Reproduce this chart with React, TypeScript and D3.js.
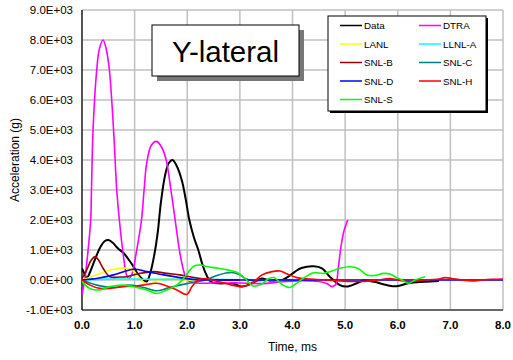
import React from "react";
import * as d3 from "d3";

type Pt = [number, number];

// Time axis ticks (ms) and acceleration ticks (g)
const xTicks = [0, 1, 2, 3, 4, 5, 6, 7, 8];
const yTicks = [-1000, 0, 1000, 2000, 3000, 4000, 5000, 6000, 7000, 8000, 9000];

const TITLE = "Y-lateral";
const X_LABEL = "Time, ms";
const Y_LABEL = "Acceleration (g)";

// Measured and simulated acceleration histories: [time ms, acceleration g]
const dataSeries: Pt[] = [
  [0, 390], [0.05, 200], [0.09, 50], [0.15, 250], [0.25, 700], [0.35, 1100], [0.43, 1290],
  [0.5, 1330], [0.58, 1250], [0.68, 1060], [0.79, 900], [0.9, 650], [0.98, 440], [1.08, 150],
  [1.17, 0], [1.23, -50], [1.3, 250], [1.38, 900], [1.44, 1600], [1.5, 2600], [1.58, 3500],
  [1.65, 3900], [1.72, 4000], [1.8, 3800], [1.9, 3300], [1.97, 2700], [2.04, 2000], [2.13, 1400],
  [2.21, 1000], [2.3, 450], [2.37, 150], [2.44, -50], [2.59, -110], [2.85, -110], [3.04, -220],
  [3.23, -110], [3.42, 50], [3.61, -50], [3.78, -20], [3.92, 110], [4.05, 280], [4.17, 400],
  [4.4, 460], [4.56, 390], [4.71, 110], [4.9, -170], [5.03, -220], [5.22, -110], [5.35, -20],
  [5.55, -60], [5.79, -170], [5.98, -210], [6.2, -110], [6.5, -60], [6.78, -30],
];

const dtra: Pt[] = [
  [0, -500], [0.06, 100], [0.11, 900], [0.165, 2000], [0.18, 3000], [0.21, 5000], [0.28, 7000],
  [0.33, 7700], [0.4, 8000], [0.46, 7700], [0.52, 7000], [0.6, 5000], [0.66, 3000], [0.71, 2000],
  [0.78, 900], [0.85, 150], [0.89, 50], [0.95, 200], [1.03, 900], [1.13, 2000], [1.18, 3000],
  [1.23, 3900], [1.32, 4500], [1.42, 4620], [1.52, 4400], [1.6, 4000], [1.69, 3000], [1.77, 2000],
  [1.86, 900], [1.94, 250], [2.0, 0], [2.1, -80], [2.3, -110], [2.6, -90], [3.0, -100],
  [3.4, -120], [3.8, -60], [4.2, -20], [4.5, -50], [4.65, -120], [4.75, -220], [4.82, -150],
  [4.87, 400], [4.92, 1100], [4.98, 1650], [5.05, 2000],
];

const lanl: Pt[] = [
  [0, 0], [0.15, 80], [0.34, 220], [0.6, 360], [0.85, 390], [0.98, 300], [1.1, 50], [1.23, -150],
  [1.35, -80], [1.55, 30], [1.8, 20], [2.1, 0], [2.4, 0], [2.75, -50], [3.2, 0], [3.6, -20], [4.0, 0],
];

const llnlA: Pt[] = [
  [0, 0], [0.5, 30], [1.0, 30], [1.5, 20], [2.0, 30], [2.5, 20], [3.0, 10],
];

const snlB: Pt[] = [
  [0, 50], [0.08, 300], [0.17, 650], [0.25, 780], [0.32, 650], [0.4, 390], [0.53, 110], [0.72, 100],
  [0.85, 110], [1.1, 220], [1.36, 280], [1.61, 220], [1.86, 170], [2.05, 110], [2.3, 40], [2.6, 0],
  [3.0, 0],
];

const snlC: Pt[] = [
  [0, 0], [0.28, -170], [0.6, -250], [0.91, -170], [1.17, -250], [1.42, -360], [1.61, -280],
  [1.86, -170], [2.05, -100], [2.34, 0], [2.59, 170], [2.85, 250], [3.0, 170], [3.1, 50],
  [3.25, -20], [3.5, 0], [4.0, 0],
];

const snlD: Pt[] = [
  [0, 0], [0.3, 60], [0.6, 170], [0.98, 360], [1.23, 280], [1.55, 170], [1.86, 80], [2.1, 20],
  [2.5, 0], [3, 0], [4, 0], [5, 0], [6, 0], [7, 0], [8, 0],
];

const snlH: Pt[] = [
  [0, 0], [0.15, -170], [0.34, -280], [0.53, -280], [0.79, -220], [1.04, -200], [1.23, -150],
  [1.42, -110], [1.61, -200], [1.8, -330], [1.99, -480], [2.09, -220], [2.21, 0], [2.34, 50],
  [2.59, -50], [2.85, -170], [3.04, -220], [3.23, -110], [3.42, 170], [3.61, 280], [3.76, 300],
  [3.9, 200], [4.08, 80], [4.33, 30], [4.59, 0], [4.9, -30], [5.22, -50], [5.55, -20], [5.86, 50],
  [5.95, 20], [6.2, -50], [6.5, 0], [6.78, 30], [6.9, 80], [7.03, 50], [7.22, 0], [7.41, -30],
  [7.6, 0], [7.79, 20], [8.0, 30],
];

const snlS: Pt[] = [
  [0, -50], [0.15, -280], [0.34, -330], [0.53, -220], [0.79, -170], [1.04, -250], [1.23, -330],
  [1.42, -450], [1.61, -330], [1.8, -170], [1.93, 50], [2.05, 330], [2.15, 480], [2.25, 500],
  [2.4, 440], [2.59, 390], [2.78, 330], [2.95, 250], [3.1, 50], [3.25, -200], [3.4, -150],
  [3.55, 50], [3.65, 80], [3.8, -150], [3.95, -250], [4.08, -110], [4.2, 50], [4.4, 240],
  [4.59, 220], [4.75, 300], [4.9, 390], [5.1, 440], [5.25, 380], [5.41, 170], [5.55, 150],
  [5.73, 220], [5.85, 200], [5.98, 80], [6.08, 0], [6.2, -110], [6.33, 0], [6.52, 110],
];

const seriesNames = ["Data", "DTRA", "LANL", "LLNL-A", "SNL-B", "SNL-C", "SNL-D", "SNL-H", "SNL-S"];
const seriesValues: Pt[][] = [dataSeries, dtra, lanl, llnlA, snlB, snlC, snlD, snlH, snlS];
const seriesColors = ["#000000", "#ff00ff", "#ffff00", "#00ffff", "#990000", "#008080", "#0000ff", "#ff0000", "#00ff00"];

const W = 513;
const H = 360;
const M = { left: 82, right: 503, top: 10, bottom: 310 };
const FONT = "'Liberation Sans', Arial, sans-serif";

export default function App() {
  const x = d3.scaleLinear().domain([0, 8]).range([M.left, M.right]);
  const y = d3.scaleLinear().domain([-1000, 9000]).range([M.bottom, M.top]);
  const line = d3
    .line<Pt>()
    .x((d) => x(d[0]))
    .y((d) => y(d[1]))
    .curve(d3.curveCatmullRom.alpha(0.5));

  const legendRows = [25.5, 44, 62.5, 81, 99.5];
  const legendCols = [340, 419];

  return (
    <svg
      width={W}
      height={H}
      style={{ position: "absolute", left: 0, top: 0, background: "#fff", fontFamily: FONT }}
    >
      <defs>
        <clipPath id="plot-clip">
          <rect x={M.left} y={M.top - 2} width={M.right - M.left + 2} height={M.bottom - M.top + 2} />
        </clipPath>
      </defs>
      <rect x={0} y={0} width={W} height={H} fill="#fff" />

      {/* grid */}
      {yTicks.map((v) => (
        <line key={"gy" + v} x1={M.left} x2={M.right} y1={y(v)} y2={y(v)} stroke="#c0c0c0" strokeWidth={1.5} />
      ))}
      {xTicks.map((v) => (
        <line key={"gx" + v} x1={x(v)} x2={x(v)} y1={M.top} y2={M.bottom} stroke="#c0c0c0" strokeWidth={1.5} />
      ))}

      {/* axes */}
      <line x1={M.left} x2={M.left} y1={M.top} y2={M.bottom} stroke="#000" strokeWidth={1.2} />
      <line x1={M.left} x2={M.right} y1={M.bottom} y2={M.bottom} stroke="#000" strokeWidth={1.2} />

      {/* y tick labels */}
      {yTicks.map((v) => (
        <text key={"ty" + v} x={73} y={y(v) + 4} textAnchor="end" fontSize={11.5} fill="#000">
          {(v / 1000).toFixed(1) + (v === 0 ? "E+00" : "E+03")}
        </text>
      ))}
      {/* x tick labels */}
      {xTicks.map((v) => (
        <text key={"tx" + v} x={x(v)} y={329} textAnchor="middle" fontSize={11.5} fontWeight="bold" fill="#000">
          {v.toFixed(1)}
        </text>
      ))}

      {/* axis titles */}
      <text x={(M.left + M.right) / 2} y={351} textAnchor="middle" fontSize={12} fill="#000">
        {X_LABEL}
      </text>
      <text
        transform={`translate(19,${(M.top + M.bottom) / 2}) rotate(-90)`}
        textAnchor="middle"
        fontSize={12}
        fill="#000"
      >
        {Y_LABEL}
      </text>

      {/* series */}
      <g clipPath="url(#plot-clip)">
        {seriesValues.map((vals, i) => (
          <path
            key={seriesNames[i]}
            d={line(vals) || ""}
            fill="none"
            stroke={seriesColors[i]}
            strokeWidth={i === 0 ? 2 : 1.6}
            strokeLinejoin="round"
          />
        ))}
      </g>

      {/* title box */}
      <rect x={157} y={30} width={147} height={51} fill="#777" />
      <rect x={152} y={25} width={147} height={51} fill="#fff" stroke="#000" strokeWidth={1} />
      <text x={225.5} y={61.5} textAnchor="middle" fontSize={29.5} fill="#000">
        {TITLE}
      </text>

      {/* legend */}
      <rect x={330} y={18} width={158} height={95} fill="#000" />
      <rect x={328} y={16} width={158} height={95} fill="#fff" stroke="#000" strokeWidth={1} />
      {seriesNames.map((name, i) => {
        const col = i === 0 ? 0 : i % 2 === 1 ? 1 : 0;
        const row = i === 0 ? 0 : Math.ceil(i / 2) - (i % 2 === 1 ? 1 : 0);
        const cx = legendCols[col];
        const cy = legendRows[row];
        return (
          <g key={"lg" + name}>
            <line x1={cx} x2={cx + 22} y1={cy} y2={cy} stroke={seriesColors[i]} strokeWidth={1.5} />
            <text x={cx + 24} y={cy + 3.5} fontSize={9.8} fill="#000">
              {name}
            </text>
          </g>
        );
      })}
    </svg>
  );
}
